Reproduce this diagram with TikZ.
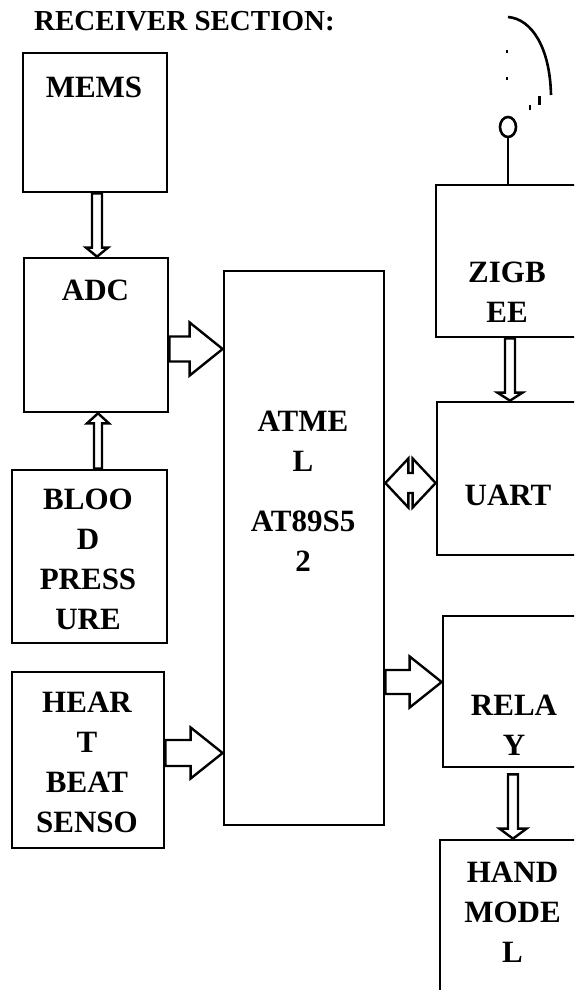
\documentclass[tikz,border=0pt]{standalone}
\usepackage{fontspec}
\setmainfont{Liberation Serif}
\usetikzlibrary{calc,shapes.geometric}
\tikzset{
  blk/.style   = {draw, line width=2.7pt, inner sep=0pt},
  txt/.style   = {font=\fontsize{31}{40}\selectfont\bfseries, align=center, inner sep=0pt},
  pipe/.style  = {draw, line width=2.4pt, line join=miter},
  ant/.style   = {draw, line width=2.6pt},
  % fat hollow arrow, horizontal: shaft half / head half / head length
  hfat/.style args = {#1/#2/#3}{to path={let \p1=(\tikztostart), \p2=(\tikztotarget) in
      (\x1,{\y1+#1}) -- ({\x2-#3},{\y1+#1}) -- ({\x2-#3},{\y1+#2}) -- (\x2,\y1)
      -- ({\x2-#3},{\y1-#2}) -- ({\x2-#3},{\y1-#1}) -- (\x1,{\y1-#1}) -- cycle}},
  % thin hollow arrow, vertical: shaft half / head half / signed head length
  vfat/.style args = {#1/#2/#3}{to path={let \p1=(\tikztostart), \p2=(\tikztotarget) in
      ({\x1-#1},\y1) -- ({\x1-#1},{\y2+#3}) -- ({\x1-#2},{\y2+#3}) -- (\x1,\y2)
      -- ({\x1+#2},{\y2+#3}) -- ({\x1+#1},{\y2+#3}) -- ({\x1+#1},\y1) -- cycle}},
  % two-headed hollow arrow
  hboth/.style args = {#1/#2/#3}{to path={let \p1=(\tikztostart), \p2=(\tikztotarget) in
      (\x1,\y1) -- ({\x1+#3},{\y1+#2}) -- ({\x1+#3},{\y1+#1}) -- ({\x2-#3},{\y1+#1})
      -- ({\x2-#3},{\y1+#2}) -- (\x2,\y1) -- ({\x2-#3},{\y1-#2}) -- ({\x2-#3},{\y1-#1})
      -- ({\x1+#3},{\y1-#1}) -- ({\x1+#3},{\y1-#2}) -- cycle}},
}
\begin{document}
\begin{tikzpicture}[x=1pt, y=-1pt]
\useasboundingbox (0,0) rectangle (574,990);
\clip (0,0) rectangle (574,990);

% ---------- title ----------
\node[anchor=base west, inner sep=0pt, font=\fontsize{29}{35}\selectfont\bfseries] (title) at (34,31) {RECEIVER SECTION:};

% ---------- left column ----------
\node[blk, minimum width=144pt, minimum height=139pt] (mems) at (95,122.5) {};
\node[blk, minimum width=144pt, minimum height=154pt] (adc) at (96,335) {};
\node[blk, minimum width=155pt, minimum height=173pt] (bp) at (89.5,556.5) {};
\node[blk, minimum width=152pt, minimum height=176pt] (heart) at (88,760) {};
\node[txt, anchor=base] (memsl) at (94,97) {MEMS};
\node[txt, anchor=base] (adcl) at (95.5,300) {ADC};
\node[txt, anchor=north] (bpl) at (88,489) {BLOO\\D\\PRESS\\URE};
\node[txt, anchor=north] (heartl) at (87,692) {HEAR\\T\\BEAT\\SENSO};

% ---------- controller ----------
\node[blk, minimum width=160pt, minimum height=554pt] (atmel) at (304,548) {};
\node[txt, anchor=north] (atmell) at (303,411) {ATME\\L\\[20pt]AT89S5\\2};

% ---------- right column ----------
\node[blk, minimum width=144pt, minimum height=152pt] (zigbee) at (508,261) {};
\node[blk, minimum width=143pt, minimum height=153pt] (uart) at (508.5,478.5) {};
\node[blk, minimum width=142pt, minimum height=151pt] (relay) at (514,691.5) {};
\node[blk, minimum width=144pt, minimum height=160pt] (hand) at (512,920) {};
\node[txt, anchor=north] (zigbeel) at (507,262) {ZIGB\\EE};
\node[txt, anchor=base] (uartl) at (508,505) {UART};
\node[txt, anchor=north] (relayl) at (514,695) {RELA\\Y};
\node[txt, anchor=north] (handl) at (512.5,862) {HAND\\MODE\\L};

% ---------- antenna ----------
\node[ant, ellipse, minimum width=16pt, minimum height=20pt, inner sep=0pt] (tip) at (508,127) {};
\draw[ant] (zigbee.north) -- (tip.south);
\draw[ant] (508,17) .. controls (532,19) and (550,48) .. (551,95);
\draw[line width=1.5pt] (507,50) -- (507,53);
\draw[line width=1.5pt] (507,77) -- (507,80);
\draw[line width=2.5pt] (530,105) -- (530,110);
\draw[line width=2.5pt] (539.5,96) -- (539.5,105);

% ---------- arrows ----------
\draw[pipe] ([xshift=2pt]mems.south) to[vfat=5pt/11pt/9pt] (adc.north);
\draw[pipe] ([xshift=8.5pt]bp.north) to[vfat=4pt/11pt/-10pt] (adc.south);
\draw[pipe] ([yshift=-14pt]adc.east) to[hfat=12.5pt/26.5pt/33pt] (atmel.west);
\draw[pipe] ([yshift=7pt]heart.east) to[hfat=13pt/25.5pt/32pt] (atmel.west);
\draw[pipe] ([xshift=2pt]zigbee.south) to[vfat=5pt/12.5pt/8pt] (uart.north);
\draw[pipe] ([yshift=65pt]atmel.east) to[hboth=10pt/24.5pt/23pt] (uart.west);
\draw[pipe] ([yshift=-134pt]atmel.east) to[hfat=12pt/25.5pt/32pt] (relay.west);
\draw[pipe] ([xshift=-1pt,yshift=-6pt]relay.south) to[vfat=5pt/13.5pt/10pt] (hand.north);

\end{tikzpicture}
\end{document}
